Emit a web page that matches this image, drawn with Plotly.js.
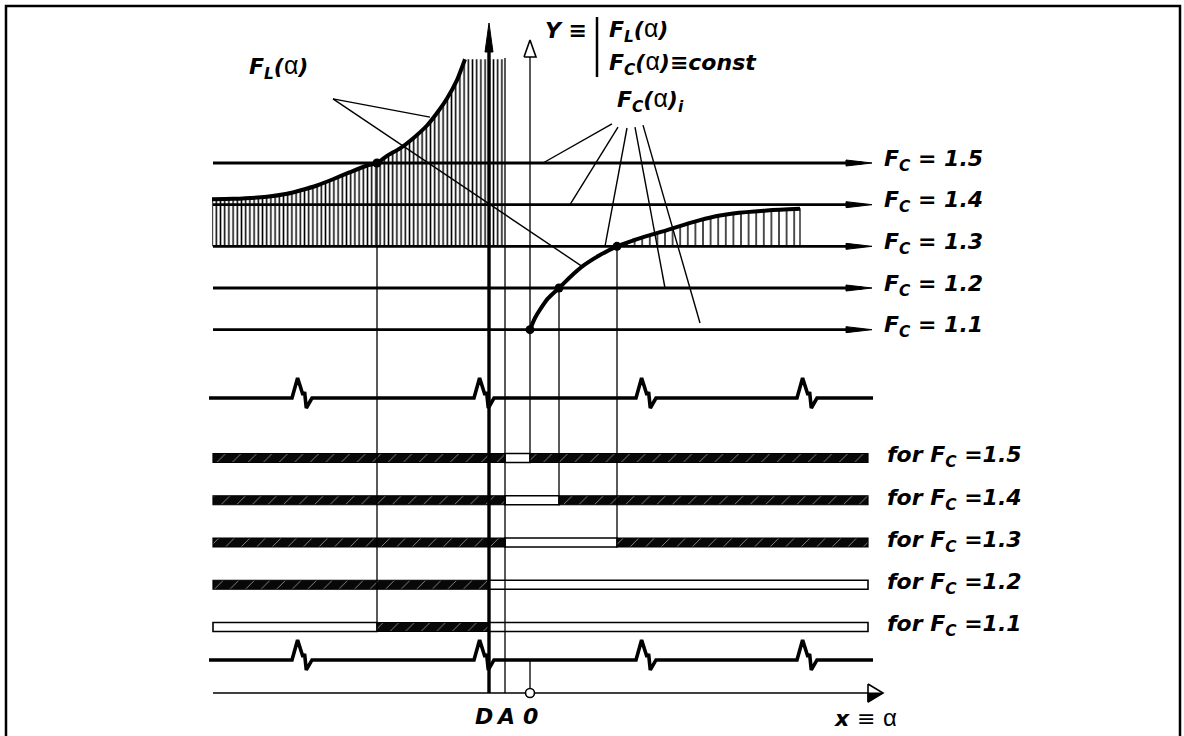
<!DOCTYPE html>
<html><head><meta charset="utf-8">
<script src="https://cdn.plot.ly/plotly-3.0.1.min.js"></script>
<style>html,body{margin:0;padding:0;background:#fff}#chart{width:1184px;height:736px}</style>
</head><body><div id="chart"></div>
<script>
// ---------------- DATA ----------------
// factor-of-safety levels F_c
const fcLevels = [1.5, 1.4, 1.3, 1.2, 1.1];
const fcLabels = ['1.5', '1.4', '1.3', '1.2', '1.1'];
// key abscissae alpha
const alphaD = -0.41, alphaA = -0.25, alphaO = 0;
const alphaLeft = -3.17, alphaRight = 3.38;
// F_L(alpha) curve (left of D)
const fLAlpha = [-3.18, -2.97, -2.63, -2.43, -2.30, -2.13, -1.97, -1.80, -1.63, -1.53, -1.43, -1.30, -1.17, -1.03, -0.93, -0.83, -0.73, -0.65];
const fLValue = [1.413, 1.414, 1.419, 1.426, 1.434, 1.446, 1.461, 1.478, 1.494, 1.500, 1.517, 1.535, 1.559, 1.590, 1.620, 1.655, 1.699, 1.749];
// F_C(alpha) curve (right of O)
const fCAlpha = [0, 0.05, 0.10, 0.18, 0.29, 0.40, 0.53, 0.70, 0.87, 1.03, 1.20, 1.37, 1.53, 1.70, 1.87, 2.03, 2.37, 2.70];
const fCValue = [1.100, 1.128, 1.148, 1.175, 1.200, 1.226, 1.253, 1.279, 1.300, 1.314, 1.327, 1.339, 1.351, 1.363, 1.373, 1.379, 1.386, 1.390];
// intersections
const crossAlpha = [-1.53, 0, 0.29, 0.87];
const crossF = [1.5, 1.1, 1.2, 1.3];
// projection lines: from curve intersection down to a result row
const dropAlpha = [-1.53, 0.29, 0.87];
const dropF = [1.5, 1.2, 1.3];
const dropRow = [1.1, 1.4, 1.3];
// result rows: segments (dark = hatched, 0 = blank)
const segRow   = [1.5, 1.5, 1.5, 1.4, 1.4, 1.4, 1.3, 1.3, 1.3, 1.2, 1.2, 1.1, 1.1, 1.1];
const segStart = [-3.17, -0.25, 0, -3.17, -0.25, 0.29, -3.17, -0.25, 0.87, -3.17, -0.41, -3.17, -1.53, -0.41];
const segEnd   = [-0.25, 0, 3.38, -0.25, 0.29, 3.38, -0.25, 0.87, 3.38, -0.41, 3.38, -1.53, -0.41, 3.38];
const segDark  = [1, 0, 1, 1, 0, 1, 1, 0, 1, 1, 0, 0, 1, 0];
// break marks on the wavy lines
const breakAlpha = [-2.38, -0.56, 1.06, 2.67];
const fcHatchEnd = 2.70;
// leader lines [fromAlpha, fromF, toAlpha, toF]
const leadFromA = [-1.97, -1.97, 0.82, 0.88, 0.97, 1.05, 1.13];
const leadFromF = [1.654, 1.654, 1.594, 1.586, 1.584, 1.586, 1.591];
const leadToA   = [-1.00, 0.52, 0.13, 0.40, 0.75, 1.35, 1.70];
const leadToF   = [1.610, 1.252, 1.500, 1.400, 1.300, 1.200, 1.116];

// ---------------- AXES / GEOMETRY ----------------
const W = 1184, H = 736;
const X_RANGE = [-5.30, 6.54];
const Y_RANGE = [1.008, 1.8912];   // F axis (top half)
const Y2_RANGE = [0.842, 1.713];   // result rows (bottom half)
const PX_X = (X_RANGE[1] - X_RANGE[0]) / W;
const PX_F = (Y_RANGE[1] - Y_RANGE[0]) / (H / 2);
const PX_R = (Y2_RANGE[1] - Y2_RANGE[0]) / (H / 2);
const rowWavyTop = 1.642, rowWavyBot = 1.022, rowAxis = 0.9438;
const lineEnd = 3.42;
const fTopD = 1.836, fBaseD = 1.7664, fTopA = 1.752, fTipO = 1.7952, fBaseO = 1.7544;
const BREAK_DX = [0, 5.6, 11, 12.6, 14.3, 20];
const BREAK_DY = [0, 20, 3, 6, -10, 0];
const barH = 9 * PX_R;

function segs(list) { // list of [[x...],[y...]] -> joined with nulls
  const xs = [], ys = [];
  list.forEach(([a, b]) => { xs.push(...a, null); ys.push(...b, null); });
  return {x: xs, y: ys};
}
const traces = [];
const blk = '#000';

// hatch fill under F_L
const flPolyX = fLAlpha.concat([alphaA, alphaA, fLAlpha[0]]);
const flPolyY = fLValue.concat([fLValue[fLValue.length - 1], fcLevels[2], fcLevels[2]]);
traces.push({x: flPolyX, y: flPolyY, mode: 'lines', fill: 'toself', line: {width: 0, color: 'rgba(0,0,0,0)'},
  fillcolor: 'rgba(255,255,255,0)', fillpattern: {shape: '|', size: 4.2, solidity: 0.36, fgcolor: blk, bgcolor: 'rgba(255,255,255,0)'}, hoverinfo: 'skip'});
// hatch fill above F_C(alpha) over 1.3
const iC = fCAlpha.indexOf(0.87);
traces.push({x: fCAlpha.slice(iC).concat([fcHatchEnd, fCAlpha[iC]]), y: fCValue.slice(iC).concat([fcLevels[2], fcLevels[2]]),
  mode: 'lines', fill: 'toself', line: {width: 1.2, color: blk}, fillcolor: 'rgba(255,255,255,0)',
  fillpattern: {shape: '|', size: 7.6, solidity: 0.18, fgcolor: blk, bgcolor: 'rgba(255,255,255,0)'}, hoverinfo: 'skip'});

// F_c horizontal lines
let s = segs(fcLevels.map(v => [[alphaLeft, lineEnd - 0.1], [v, v]]));
traces.push({x: s.x, y: s.y, mode: 'lines', line: {width: 2.8, color: blk}, hoverinfo: 'skip'});
// arrowheads on F_c lines
s = segs(fcLevels.map(v => [[lineEnd - 0.26, lineEnd, lineEnd - 0.26, lineEnd - 0.26], [v + 3 * PX_F, v, v - 3 * PX_F, v + 3 * PX_F]]));
traces.push({x: s.x, y: s.y, mode: 'lines', fill: 'toself', fillcolor: blk, line: {width: 1, color: blk}, hoverinfo: 'skip'});

// vertical thin lines (top panel)
const vTop = [[[alphaA, alphaA], [fTopA, Y_RANGE[0]]], [[alphaO, alphaO], [fBaseO, Y_RANGE[0]]]]
  .concat(dropAlpha.map((a, i) => [[a, a], [dropF[i], Y_RANGE[0]]]));
s = segs(vTop);
traces.push({x: s.x, y: s.y, mode: 'lines', line: {width: 1.3, color: blk}, hoverinfo: 'skip'});
// thick D axis
traces.push({x: [alphaD, alphaD], y: [fBaseD, Y_RANGE[0]], mode: 'lines', line: {width: 3.4, color: blk}, hoverinfo: 'skip'});
traces.push({x: [alphaD - 4 * PX_X, alphaD, alphaD + 4 * PX_X, alphaD - 4 * PX_X], y: [fBaseD, fTopD, fBaseD, fBaseD], mode: 'lines', fill: 'toself', fillcolor: blk, line: {width: 1, color: blk}, hoverinfo: 'skip'});
// hollow arrow on O axis
traces.push({x: [alphaO - 6 * PX_X, alphaO, alphaO + 6 * PX_X, alphaO - 6 * PX_X], y: [fBaseO, fTipO, fBaseO, fBaseO], mode: 'lines', fill: 'toself', fillcolor: '#fff', line: {width: 1.6, color: blk}, hoverinfo: 'skip'});

// leader lines
s = segs(leadFromA.map((a, i) => [[a, leadToA[i]], [leadFromF[i], leadToF[i]]]));
traces.push({x: s.x, y: s.y, mode: 'lines', line: {width: 1.4, color: blk}, hoverinfo: 'skip'});

// curves
traces.push({x: fLAlpha, y: fLValue, mode: 'lines', line: {width: 4, color: blk, shape: 'spline', smoothing: 0.6}, hoverinfo: 'skip'});
traces.push({x: fCAlpha, y: fCValue, mode: 'lines', line: {width: 4, color: blk, shape: 'spline', smoothing: 0.8}, hoverinfo: 'skip'});
traces.push({x: crossAlpha, y: crossF, mode: 'markers', marker: {size: 9, color: blk}, hoverinfo: 'skip'});

// ---------- bottom panel (y2) ----------
const darkIdx = segDark.map((d, i) => d ? i : -1).filter(i => i >= 0);
const liteIdx = segDark.map((d, i) => d ? -1 : i).filter(i => i >= 0);
traces.push({type: 'bar', orientation: 'h', yaxis: 'y2', y: liteIdx.map(i => segRow[i]), base: liteIdx.map(i => segStart[i]),
  x: liteIdx.map(i => segEnd[i] - segStart[i]), width: barH, marker: {color: '#fff', line: {width: 1.6, color: blk}}, hoverinfo: 'skip'});
traces.push({type: 'bar', orientation: 'h', yaxis: 'y2', y: darkIdx.map(i => segRow[i]), base: darkIdx.map(i => segStart[i]),
  x: darkIdx.map(i => segEnd[i] - segStart[i]), width: barH,
  marker: {color: '#080808', line: {width: 1.2, color: blk}, pattern: {shape: '/', size: 11, solidity: 0.06, fgcolor: '#ffffff', fgopacity: 0.75, bgcolor: '#080808'}}, hoverinfo: 'skip'});

// vertical lines bottom
const vBot = [[[alphaA, alphaA], [Y2_RANGE[1], rowAxis]], [[alphaO, alphaO], [Y2_RANGE[1], fcLevels[0] + barH / 2]], [[alphaO, alphaO], [rowWavyBot, rowAxis]]]
  .concat(dropAlpha.map((a, i) => [[a, a], [Y2_RANGE[1], dropRow[i] + barH / 2]]));
s = segs(vBot);
traces.push({x: s.x, y: s.y, yaxis: 'y2', mode: 'lines', line: {width: 1.3, color: blk}, hoverinfo: 'skip'});
traces.push({x: [alphaD, alphaD], y: [Y2_RANGE[1], rowAxis], yaxis: 'y2', mode: 'lines', line: {width: 3.4, color: blk}, hoverinfo: 'skip'});

// wavy (break) lines
function wavy(rv) {
  const xs = [alphaLeft - 0.04], ys = [rv];
  breakAlpha.forEach(b => BREAK_DX.forEach((dx, i) => { xs.push(b + dx * PX_X); ys.push(rv + BREAK_DY[i] * PX_R); }));
  xs.push(alphaRight + 0.05); ys.push(rv);
  return [xs, ys];
}
s = segs([wavy(rowWavyTop), wavy(rowWavyBot)]);
traces.push({x: s.x, y: s.y, yaxis: 'y2', mode: 'lines', line: {width: 3.6, color: blk}, hoverinfo: 'skip'});

// x axis with hollow arrow and origin circle
traces.push({x: [alphaLeft, alphaRight], y: [rowAxis, rowAxis], yaxis: 'y2', mode: 'lines', line: {width: 1.6, color: blk}, hoverinfo: 'skip'});
traces.push({x: [alphaRight, alphaRight + 15 * PX_X, alphaRight, alphaRight], y: [rowAxis + 9 * PX_R, rowAxis, rowAxis - 9 * PX_R, rowAxis + 9 * PX_R], yaxis: 'y2', mode: 'lines', fill: 'toself', fillcolor: '#fff', line: {width: 1.6, color: blk}, hoverinfo: 'skip'});
traces.push({x: [alphaRight, alphaRight + 15 * PX_X, alphaRight, alphaRight], y: [rowAxis, rowAxis, rowAxis - 9 * PX_R, rowAxis], yaxis: 'y2', mode: 'lines', fill: 'toself', fillcolor: blk, line: {width: 1, color: blk}, hoverinfo: 'skip'});
traces.push({x: [alphaO], y: [rowAxis], yaxis: 'y2', mode: 'markers', marker: {size: 9, color: '#fff', line: {width: 1.6, color: blk}}, hoverinfo: 'skip'});

// ---------------- TEXT ----------------
const F = {family: 'DejaVu Sans, Liberation Sans, sans-serif', size: 22, color: '#000', weight: 'bold', style: 'italic'};
const AL = '<span style="font-style:normal;font-weight:normal;font-family:\'Liberation Sans\';font-size:25px">α</span>';
const px = v => v / W, py = v => 1 - v / H;
function ann(text, x, y, o) {
  return Object.assign({text, x, y, xref: 'paper', yref: 'paper', showarrow: false, font: F, xanchor: 'left', yanchor: 'middle'}, o || {});
}
const annotations = [
  ann('F<sub>L</sub>(' + AL + ')', px(247), py(67)),
  ann('Y ≡', px(543), py(30)),
  ann('F<sub>L</sub>(' + AL + ')', px(607), py(30)),
  ann('F<sub>C</sub>(' + AL + ')≡const', px(607), py(63)),
  ann('F<sub>C</sub>(' + AL + ')<sub>i</sub>', px(615), py(100)),
  ann('<i>x</i> <span style="font-style:normal;font-weight:normal">≡</span> <span style="font-style:normal;font-weight:normal;font-family:\'Liberation Sans\';font-size:24px">α</span>', px(832), py(717)),
  ann('D', alphaD, py(716), {xref: 'x', xanchor: 'center', xshift: -5}),
  ann('A', alphaA, py(716), {xref: 'x', xanchor: 'center'}),
  ann('0', alphaO, py(716), {xref: 'x', xanchor: 'center'})
];
fcLevels.forEach((v, i) => {
  annotations.push(ann('F<sub>C</sub> = ' + fcLabels[i], px(882), v, {yref: 'y', yshift: 3}));
  annotations.push(ann('for F<sub>C</sub> =' + fcLabels[i], px(885), v, {yref: 'y2', yshift: 1}));
});

const layout = {
  width: W, height: H, margin: {l: 0, r: 0, t: 0, b: 0},
  paper_bgcolor: '#fff', plot_bgcolor: 'rgba(0,0,0,0)', showlegend: false, barmode: 'overlay',
  xaxis: {range: X_RANGE, visible: false, fixedrange: true},
  yaxis: {range: Y_RANGE, domain: [0.5, 1], visible: false, fixedrange: true},
  yaxis2: {range: Y2_RANGE, domain: [0, 0.5], visible: false, fixedrange: true, anchor: 'x'},
  shapes: [
    {type: 'rect', xref: 'paper', yref: 'paper', x0: px(6), x1: px(1180), y0: -0.05, y1: py(6), line: {width: 2.5, color: blk}},
    {type: 'line', xref: 'paper', yref: 'paper', x0: px(597), x1: px(597), y0: py(17), y1: py(77), line: {width: 2.5, color: blk}}
  ],
  annotations
};
Plotly.newPlot('chart', traces, layout, {staticPlot: true, displayModeBar: false});
</script></body></html>
